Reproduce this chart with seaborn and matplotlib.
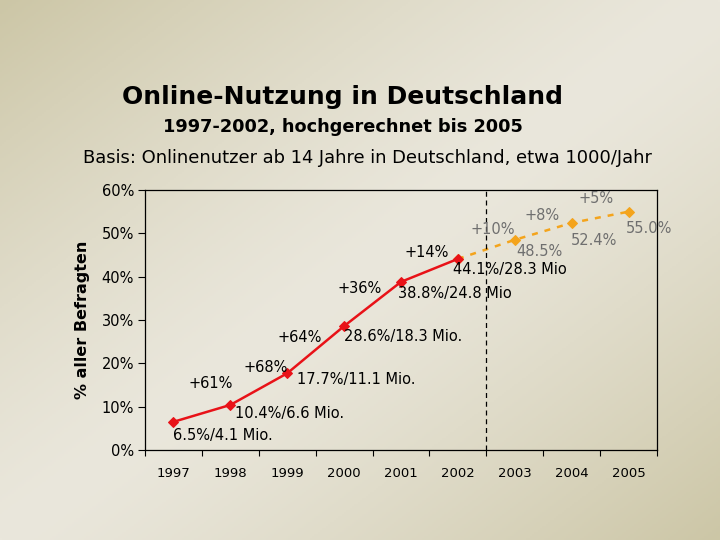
import numpy as np
import pandas as pd
import seaborn as sns
import matplotlib.pyplot as plt
import matplotlib.ticker as mticker

# data
years = ["1997", "1998", "1999", "2000", "2001", "2002", "2003", "2004", "2005"]
actual = [6.5, 10.4, 17.7, 28.6, 38.8, 44.1]
forecast = [44.1, 48.5, 52.4, 55.0]
value_labels = ["6.5%/4.1 Mio.", "10.4%/6.6 Mio.", "17.7%/11.1 Mio.", "28.6%/18.3 Mio.",
                "38.8%/24.8 Mio", "44.1%/28.3 Mio", "48.5%", "52.4%", "55.0%"]
growth_labels = ["+61%", "+68%", "+64%", "+36%", "+14%", "+10%", "+8%", "+5%"]

# pixel offsets of the labels from their points (left edge / centre)
value_offsets = [(0, -14), (5, -9), (10, -6), (0, -10), (-3, -12), (-5, -11), (2, -12), (-1, -18), (-3, -17)]
growth_offsets = [(-20, 21), (-22, 6), (-44, -11), (-41, -7), (-31, 6), (-22, 10), (-30, 7), (-32, 13)]

RED = "#e81218"
ORANGE = "#f4a41c"
GREY = "#6f6f6f"

df_act = pd.DataFrame({"pos": range(len(actual)), "val": actual})
df_fc = pd.DataFrame({"pos": range(len(actual) - 1, len(actual) - 1 + len(forecast)), "val": forecast})

sns.set_theme(style="ticks")
plt.rcParams["font.family"] = ["DejaVu Sans"]

fig = plt.figure(figsize=(7.2, 5.4), dpi=100)

# background: dark at top-left / bottom-right, light along the other diagonal
bg = fig.add_axes([0, 0, 1, 1], zorder=-5)
gx, gy = np.meshgrid(np.linspace(0, 1, 360), np.linspace(0, 1, 270))
t = np.abs(gx + gy - 1.0) ** 1.3
light = np.array([234, 231, 220]) / 255
dark = np.array([204, 198, 166]) / 255
img = light[None, None, :] + (dark - light)[None, None, :] * t[:, :, None]
bg.imshow(img, aspect="auto", extent=[0, 1, 0, 1], origin="upper")
bg.axis("off")

ax = fig.add_axes([145 / 720, 1 - 450 / 540, 512 / 720, 260 / 540])
ax.set_facecolor("none")

# forecast first so that the 2002 red marker sits on top
sns.lineplot(data=df_fc, x="pos", y="val", ax=ax, color=ORANGE, linewidth=1.8,
             marker="D", markersize=5.5, markeredgecolor=ORANGE, dashes=False)
ax.lines[-1].set_dashes([2.4, 2.8])
sns.lineplot(data=df_act, x="pos", y="val", ax=ax, color=RED, linewidth=1.8,
             marker="D", markersize=5.5, markeredgecolor=RED)

ax.axvline(5.5, color="black", linewidth=0.9, linestyle=(0, (4, 3)))

ax.set_xlim(-0.5, len(years) - 0.5)
ax.set_ylim(0, 60)
ax.yaxis.set_major_locator(mticker.MultipleLocator(10))
ax.yaxis.set_major_formatter(mticker.FuncFormatter(lambda v, p: f"{v:.0f}%"))

# tick marks at the category borders, labels at the centres
ax.xaxis.set_major_locator(mticker.FixedLocator(np.arange(-0.5, len(years), 1.0)))
ax.xaxis.set_major_formatter(mticker.NullFormatter())
ax.xaxis.set_minor_locator(mticker.FixedLocator(np.arange(len(years))))
ax.xaxis.set_minor_formatter(mticker.FixedFormatter(years))
ax.tick_params(axis="x", which="major", length=4, width=0.8, direction="out", color="black")
ax.tick_params(axis="x", which="minor", length=0, pad=12, labelsize=9.5, labelcolor="black")
ax.tick_params(axis="y", length=5, width=0.8, direction="out", pad=3, labelsize=10.5,
               labelcolor="black", color="black")

for s in ax.spines.values():
    s.set_visible(True)
    s.set_color("black")
    s.set_linewidth(0.9)

ax.set_xlabel("")
ax.set_ylabel("% aller Befragten", fontsize=11.5, fontweight="bold", color="black", labelpad=8)

all_vals = actual + forecast[1:]
for i, (lab, off) in enumerate(zip(value_labels, value_offsets)):
    ax.annotate(lab, (i, all_vals[i]), xytext=off, textcoords="offset pixels",
                ha="left", va="center", fontsize=10.5,
                color="black" if i < len(actual) else GREY)

for i, (lab, off) in enumerate(zip(growth_labels, growth_offsets)):
    ax.annotate(lab, (i + 1, all_vals[i + 1]), xytext=off, textcoords="offset pixels",
                ha="center", va="center", fontsize=10.5,
                color="black" if i < len(actual) - 1 else GREY)

fig.text(342 / 720, 1 - 97 / 540, "Online-Nutzung in Deutschland", ha="center", va="center",
         fontsize=18, fontweight="bold", color="black")
fig.text(343 / 720, 1 - 127 / 540, "1997-2002, hochgerechnet bis 2005", ha="center", va="center",
         fontsize=12.8, fontweight="bold", color="black")
fig.text(367 / 720, 1 - 158 / 540, "Basis: Onlinenutzer ab 14 Jahre in Deutschland, etwa 1000/Jahr",
         ha="center", va="center", fontsize=12.9, color="black")

fig.savefig("out.png", dpi=100)
